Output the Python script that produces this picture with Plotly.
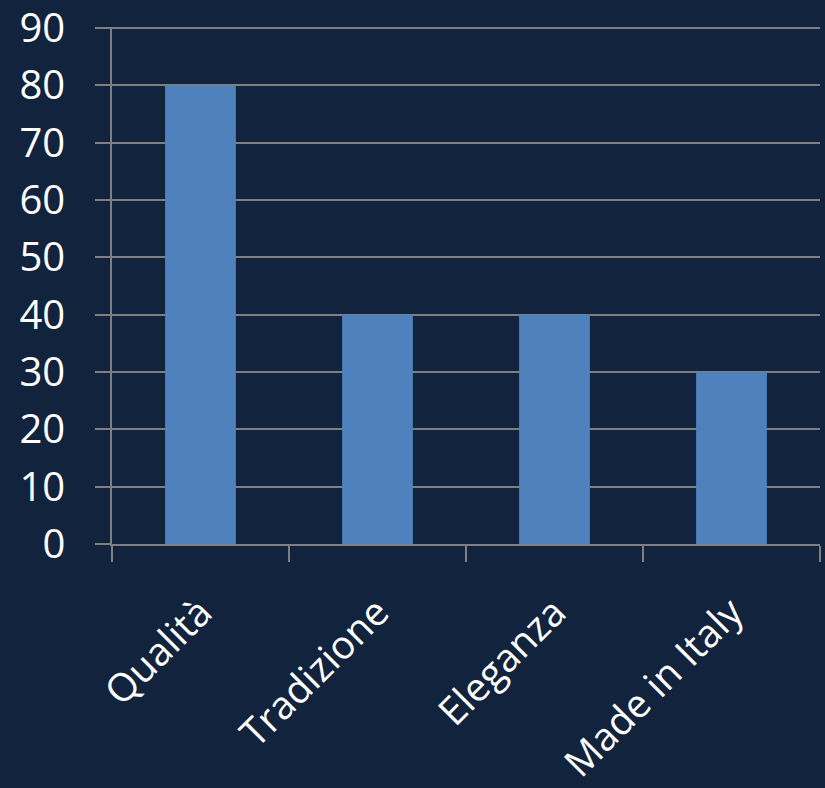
import plotly.graph_objects as go

categories = ["Qualità", "Tradizione", "Eleganza", "Made in Italy"]
values = [80, 40, 40, 30]
y_ticks = [0, 10, 20, 30, 40, 50, 60, 70, 80, 90]

BG = "#11233D"
BAR = "#4F81BD"
GRID = "#7F7F7F"

fig = go.Figure(go.Bar(x=categories, y=values, marker_color=BAR, marker_line_width=0, width=0.4))

fig.update_layout(
    width=825, height=788,
    margin=dict(l=112, r=5, t=27, b=244),
    paper_bgcolor=BG, plot_bgcolor=BG,
    font=dict(family="Open Sans", color="white", size=40),
    showlegend=False,
)
fig.update_yaxes(
    range=[0, 90.2], tickvals=y_ticks, showgrid=True, gridcolor=GRID, gridwidth=1.5,
    ticks="outside", ticklen=15, tickcolor=GRID, tickwidth=1.5,
    showline=True, linecolor=GRID, linewidth=1.5, zeroline=False,
    tickfont=dict(size=40), ticklabelstandoff=22, ticklabeloverflow="allow",
    automargin=False,
)
fig.update_xaxes(
    tickson="boundaries", ticks="outside", ticklen=16, tickcolor=GRID, tickwidth=1.5,
    showline=True, linecolor=GRID, linewidth=1.5, tickangle=-45,
    tickfont=dict(size=39), ticklabelstandoff=28, ticklabeloverflow="allow",
    automargin=False,
)
fig.write_html("out.html")
